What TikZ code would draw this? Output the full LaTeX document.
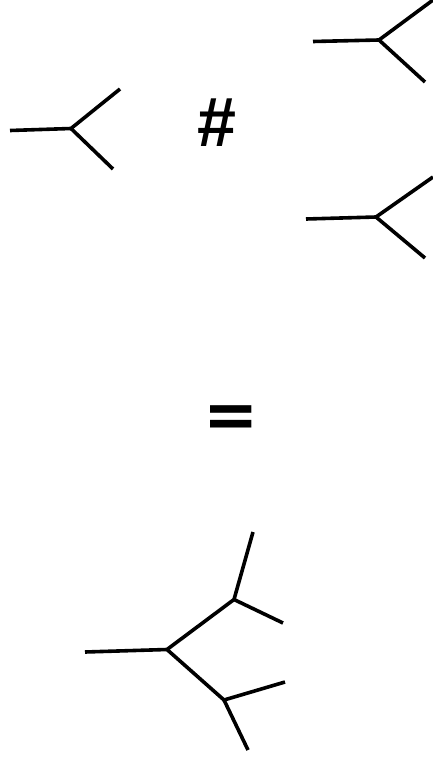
\documentclass[tikz,border=0pt]{standalone}
\usepackage{fontspec}
\newfontfamily\symfont{Liberation Sans}
\newfontfamily\eqfont{DejaVu Sans}
\begin{document}
\begin{tikzpicture}[x=1pt,y=-1pt,
  edge/.style={line width=3.6pt,line cap=butt,line join=miter},
  sym/.style={font=\symfont\bfseries\itshape\fontsize{70}{70}\selectfont,inner sep=0pt},
  eqsym/.style={font=\eqfont\bfseries\fontsize{66}{66}\selectfont,inner sep=0pt}]
\useasboundingbox (0,0) rectangle (433,757);
% top-left tree
\coordinate (a0) at (10,130.5);
\coordinate (a) at (71,128.5);
\coordinate (a1) at (120,89);
\coordinate (a2) at (113,169);
\draw[edge] (a0) -- (a) -- (a1);
\draw[edge] (a) -- (a2);
% hash
\node[sym] (hash) at (216,123) {\#};
% top-right tree
\coordinate (b0) at (313,41.5);
\coordinate (b) at (379,40);
\coordinate (b1) at (433,0);
\coordinate (b2) at (425,82);
\draw[edge] (b0) -- (b) -- (b1);
\draw[edge] (b) -- (b2);
% middle-right tree
\coordinate (c0) at (306,219);
\coordinate (c) at (376,217);
\coordinate (c1) at (433,177);
\coordinate (c2) at (425,258);
\draw[edge] (c0) -- (c) -- (c1);
\draw[edge] (c) -- (c2);
% equals
\node[eqsym] (eq) at (231.5,421.5) {=};
% bottom tree
\coordinate (d0) at (85,652);
\coordinate (d) at (167,649.5);
\coordinate (e) at (234,599.5);
\coordinate (e1) at (253,532);
\coordinate (e2) at (283,623);
\coordinate (f) at (224,700);
\coordinate (f1) at (285,682);
\coordinate (f2) at (248,750);
\draw[edge] (d0) -- (d) -- (e) -- (e1);
\draw[edge] (e) -- (e2);
\draw[edge] (d) -- (f) -- (f1);
\draw[edge] (f) -- (f2);
\end{tikzpicture}
\end{document}
